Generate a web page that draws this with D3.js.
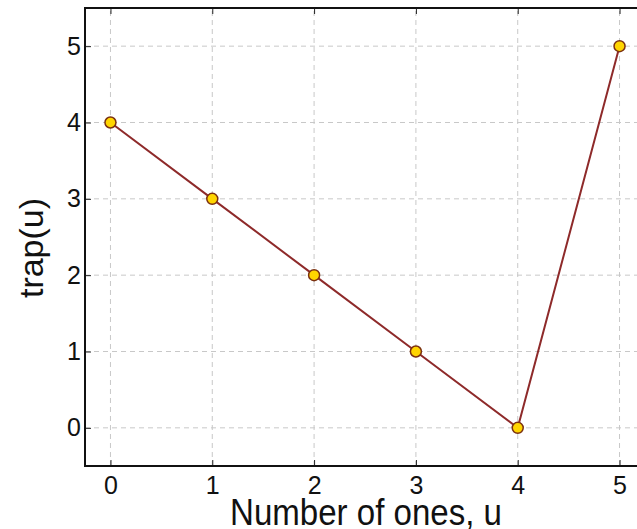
<!DOCTYPE html>
<html>
<head>
<meta charset="utf-8">
<script src="https://cdn.jsdelivr.net/npm/d3@7"></script>
<style>
  body { margin:0; background:#fff; }
  text { font-family: "Liberation Sans", Arial, sans-serif; }
</style>
</head>
<body>
<div id="chart"></div>
<script>
// data
let onesCount = [0, 1, 2, 3, 4, 5];
let trapValues = [4, 3, 2, 1, 0, 5];
let xTicks = [0, 1, 2, 3, 4, 5];
let yTicks = [0, 1, 2, 3, 4, 5];

let sizes = {width:637, height:529};
let margin = {left:85, top:8, right:-8, bottom:63};

let svg = d3.select('#chart').append('svg')
    .attr('width', sizes.width)
    .attr('height', sizes.height);

let x = d3.scaleLinear()
    .domain([-0.25, 5.25])
    .range([margin.left, sizes.width - margin.right]);
let y = d3.scaleLinear()
    .domain([-0.5, 5.5])
    .range([sizes.height - margin.bottom, margin.top]);

// grid
let grid = svg.append('g').attr('stroke', '#c8c8c8').attr('stroke-dasharray', '5,4').attr('stroke-width', 1);
grid.selectAll('.gx').data(xTicks).enter().append('line')
    .attr('x1', d => x(d)).attr('x2', d => x(d))
    .attr('y1', y.range()[0]).attr('y2', y.range()[1]);
grid.selectAll('.gy').data(yTicks).enter().append('line')
    .attr('y1', d => y(d)).attr('y2', d => y(d))
    .attr('x1', x.range()[0]).attr('x2', x.range()[1]);

// axes (ticks pointing inward like matplotlib)
let fontTick = '25px';
let fmt = d3.format('d');
svg.append('g')
    .attr('transform', 'translate(0,' + y.range()[0] + ')')
    .call(d3.axisBottom(x).tickValues(xTicks).tickFormat(fmt).tickSizeInner(-6).tickSizeOuter(0).tickPadding(10))
    .call(g => g.select('.domain').remove())
    .selectAll('text').attr('font-size', fontTick).attr('fill', '#111');
svg.append('g')
    .attr('transform', 'translate(0,' + y.range()[1] + ')')
    .call(d3.axisTop(x).tickValues(xTicks).tickSizeInner(-6).tickSizeOuter(0).tickFormat(''))
    .call(g => g.select('.domain').remove());
svg.append('g')
    .attr('transform', 'translate(' + x.range()[0] + ',0)')
    .call(d3.axisLeft(y).tickValues(yTicks).tickFormat(fmt).tickSizeInner(-6).tickSizeOuter(0).tickPadding(4))
    .call(g => g.select('.domain').remove())
    .selectAll('text').attr('font-size', fontTick).attr('fill', '#111');
svg.selectAll('.tick line').attr('stroke', '#222').attr('stroke-width', 1);

// frame
svg.append('rect')
    .attr('x', x.range()[0]).attr('y', y.range()[1])
    .attr('width', x.range()[1] - x.range()[0])
    .attr('height', y.range()[0] - y.range()[1])
    .attr('fill', 'none').attr('stroke', '#111').attr('stroke-width', 2);

// line + markers
let pts = onesCount.map((u, i) => [u, trapValues[i]]);
svg.append('path')
    .datum(pts)
    .attr('fill', 'none')
    .attr('stroke', '#8e2a2a')
    .attr('stroke-width', 2)
    .attr('d', d3.line().x(d => x(d[0])).y(d => y(d[1])));
svg.selectAll('.pt').data(pts).enter().append('circle')
    .attr('cx', d => x(d[0])).attr('cy', d => y(d[1]))
    .attr('r', 5.5)
    .attr('fill', '#ffd500')
    .attr('stroke', '#7a3010')
    .attr('stroke-width', 1.5);

// labels
svg.append('text')
    .attr('x', 230).attr('y', 525)
    .attr('font-size', '37px').attr('fill', '#111')
    .attr('textLength', 272).attr('lengthAdjust', 'spacingAndGlyphs')
    .text('Number of ones, u');
svg.append('text')
    .attr('transform', 'translate(43,' + 248 + ') rotate(-90)')
    .attr('text-anchor', 'middle')
    .attr('font-size', '34px').attr('fill', '#111')
    .text('trap(u)');
</script>
</body>
</html>
